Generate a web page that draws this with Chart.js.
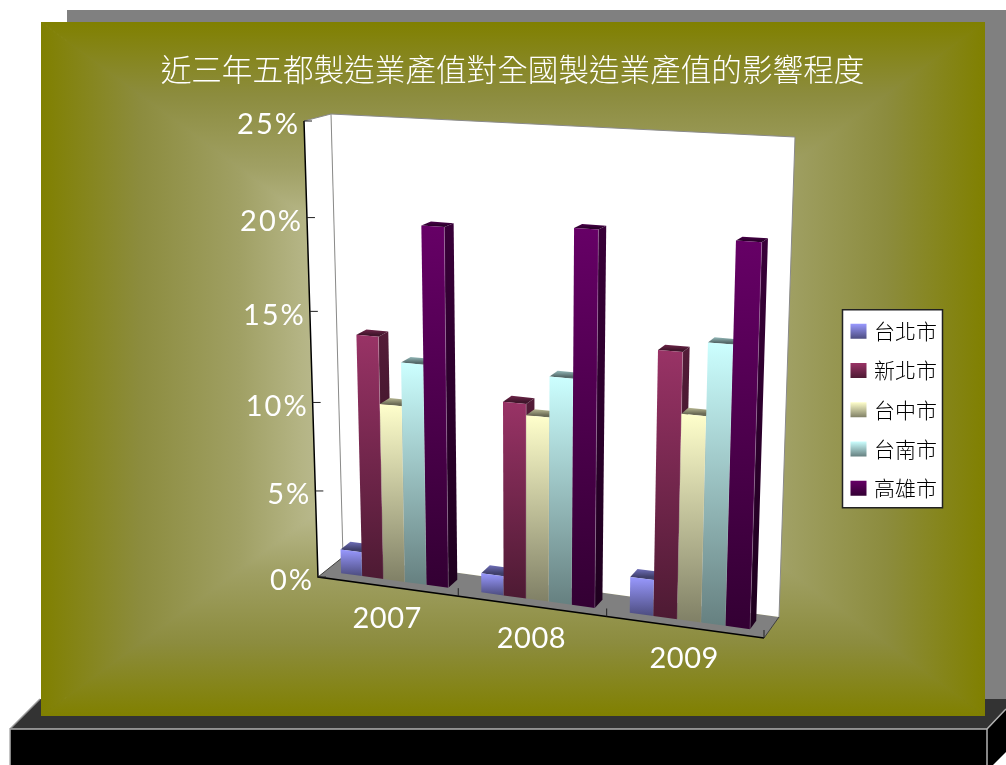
<!DOCTYPE html>
<html>
<head>
<meta charset="utf-8">
<style>
  html, body { margin: 0; padding: 0; background: #fff; }
  canvas { display: block; }
</style>
<script src="https://cdn.jsdelivr.net/npm/chart.js@4"></script>
</head>
<body>
<canvas id="chart" width="1006" height="765"></canvas>
<script>
const chartTitle = "近三年五都製造業產值對全國製造業產值的影響程度";
const years = ["2007", "2008", "2009"];
const taipei    = [1.4, 1.1, 2.0];
const newTaipei = [13.7, 10.8, 14.3];
const taichung  = [10.0, 10.2, 11.1];
const tainan    = [12.4, 12.4, 14.9];
const kaohsiung = [19.8, 20.2, 20.1];
const seriesNames = ["台北市", "新北市", "台中市", "台南市", "高雄市"];
const seriesValues = [taipei, newTaipei, taichung, tainan, kaohsiung];
const seriesColors = [[153,153,255], [153,51,102], [255,255,204], [204,255,255], [102,0,102]];

const latin = "Lato, sans-serif";
const cjk = "'Noto Sans CJK TC', sans-serif";

// corners of the 3D box as seen on the page
const FL = [318,577], FR = [764,638], FTL = [304,121], FTR = [780,144];
const BL = [343,557], BR = [779,617], BTL = [331,114], BTR = [795,137];
const BAR_FRONT = 0.3, BAR_BACK = 0.7;

const lerp = (a, b, t) => [a[0] + (b[0]-a[0])*t, a[1] + (b[1]-a[1])*t];
const rgb = (c, f) => `rgb(${Math.round(c[0]*f)},${Math.round(c[1]*f)},${Math.round(c[2]*f)})`;

// u along the categories, d into the depth, h up the value axis (all 0..1)
function project(u, d, h) {
  const su = u / (u + 1.09*(1-u));
  const sh = h / (h + 1.075*(1-h));
  const front = lerp(lerp(FL, FR, su), lerp(FTL, FTR, su), sh);
  const back = lerp(lerp(BL, BR, su), lerp(BTL, BTR, su), sh);
  return lerp(front, back, d);
}

function poly(ctx, pts, fill, stroke, lw) {
  ctx.beginPath();
  pts.forEach((p, i) => i ? ctx.lineTo(p[0], p[1]) : ctx.moveTo(p[0], p[1]));
  ctx.closePath();
  if (fill) { ctx.fillStyle = fill; ctx.fill(); }
  if (stroke) { ctx.strokeStyle = stroke; ctx.lineWidth = lw || 1; ctx.stroke(); }
}

function drawPage(ctx) {
  ctx.fillStyle = "#fff";
  ctx.fillRect(0, 0, 1006, 765);
  ctx.fillStyle = "#808080";
  ctx.fillRect(67, 10, 939, 695);
  // base block
  poly(ctx, [[10,729],[40,699],[1006,699],[1006,709],[987,729]], "#333333");
  poly(ctx, [[987,729],[1006,709],[1006,752],[993,765],[987,765]], "#000");
  ctx.fillStyle = "#000";
  ctx.fillRect(10, 729, 977, 36);
  ctx.strokeStyle = "#b2b2b2";
  ctx.lineWidth = 1.5;
  ctx.beginPath();
  ctx.moveTo(10, 765); ctx.lineTo(10, 729); ctx.lineTo(987, 729); ctx.lineTo(987, 765);
  ctx.stroke();
  ctx.beginPath();
  ctx.moveTo(987, 729); ctx.lineTo(1006, 709);
  ctx.stroke();
  ctx.beginPath();
  ctx.moveTo(10, 729); ctx.lineTo(40, 699);
  ctx.strokeStyle = "#999";
  ctx.stroke();

  // olive panel, gradient runs along the rectangle path towards the centre
  const x0 = 41, y0 = 22, x1 = 985, y1 = 716, cx = 513, cy = 369;
  const sides = [
    [[x0,y0],[x1,y0],[cx,cy], [cx,y0,cx,cy]],
    [[x1,y0],[x1,y1],[cx,cy], [x1,cy,cx,cy]],
    [[x1,y1],[x0,y1],[cx,cy], [cx,y1,cx,cy]],
    [[x0,y1],[x0,y0],[cx,cy], [x0,cy,cx,cy]]
  ];
  ctx.save();
  ctx.beginPath();
  ctx.rect(x0, y0, x1 - x0, y1 - y0);
  ctx.clip();
  sides.forEach(s => {
    const g = ctx.createLinearGradient(s[3][0], s[3][1], s[3][2], s[3][3]);
    g.addColorStop(0, "#808000");
    g.addColorStop(0.21, "#8c8c3e");
    g.addColorStop(0.42, "#a0a064");
    g.addColorStop(0.55, "#b4b484");
    g.addColorStop(1, "#f0f0f0");
    poly(ctx, s.slice(0,3), g, g, 1);
  });
  ctx.restore();
}

function drawBox(ctx) {
  poly(ctx, [FL, BL, BR, FR], "#808080");
  poly(ctx, [FL, FTL, BTL, BL], "#fff");
  poly(ctx, [BL, BTL, BTR, BR], "#fff");
  ctx.strokeStyle = "#8a8a8a";
  ctx.lineWidth = 1;
  ctx.beginPath();
  ctx.moveTo(...BL); ctx.lineTo(...BTL); ctx.lineTo(...BTR); ctx.lineTo(...BR);
  ctx.moveTo(...FTL); ctx.lineTo(...BTL);
  ctx.stroke();
  ctx.strokeStyle = "#404040";
  ctx.beginPath();
  ctx.moveTo(...FL); ctx.lineTo(...BL);
  ctx.moveTo(...FR); ctx.lineTo(...BR);
  ctx.stroke();
  ctx.strokeStyle = "#000";
  ctx.lineWidth = 1.5;
  ctx.beginPath();
  ctx.moveTo(...FTL); ctx.lineTo(...FL); ctx.lineTo(...FR);
  ctx.stroke();
}

function drawAxes(chart) {
  const ctx = chart.ctx, area = chart.chartArea;
  const xs = chart.scales.x, ys = chart.scales.y;
  ctx.fillStyle = "#fff";
  ctx.font = "400 29px " + latin;
  ctx.textBaseline = "middle";
  ctx.strokeStyle = "#202020";
  ctx.lineWidth = 1;
  ctx.letterSpacing = "2px";
  ys.ticks.forEach(t => {
    const h = (area.bottom - ys.getPixelForValue(t.value)) / area.height;
    const p = project(0, 0, h);
    ctx.beginPath();
    ctx.moveTo(p[0], p[1]); ctx.lineTo(p[0] + 8, p[1]);
    ctx.stroke();
    ctx.textAlign = "right";
    ctx.fillText(t.label, p[0] - 4, p[1] + 4);
  });
  ctx.letterSpacing = "0.5px";
  xs.ticks.forEach((t, i) => {
    const u = (xs.getPixelForValue(t.value) - area.left) / area.width;
    const p = project(u, 0, 0);
    ctx.textAlign = "center";
    ctx.fillText(t.label, p[0], p[1] + 32);
    const e = project((i + 1) / xs.ticks.length, 0, 0);
    ctx.beginPath();
    ctx.moveTo(e[0], e[1]); ctx.lineTo(e[0], e[1] - 8);
    ctx.stroke();
  });
  ctx.letterSpacing = "0px";
}

function drawBar(ctx, bar, color, area) {
  const u0 = (bar.x - bar.width/2 - area.left) / area.width;
  const u1 = (bar.x + bar.width/2 - area.left) / area.width;
  const h = (area.bottom - bar.y) / area.height;
  const a = project(u0, BAR_FRONT, 0), b = project(u1, BAR_FRONT, 0);
  const c = project(u1, BAR_FRONT, h), e = project(u0, BAR_FRONT, h);
  const bb = project(u1, BAR_BACK, 0), bc = project(u1, BAR_BACK, h), be = project(u0, BAR_BACK, h);

  // right side
  const gs = ctx.createLinearGradient(0, bc[1], 0, bb[1]);
  gs.addColorStop(0, rgb(color, 0.55));
  gs.addColorStop(1, rgb(color, 0.3));
  poly(ctx, [b, bb, bc, c], gs);
  // top
  const gt = ctx.createLinearGradient(0, be[1], 0, e[1]);
  gt.addColorStop(0, rgb(color, 0.72));
  gt.addColorStop(1, rgb(color, 0.42));
  poly(ctx, [e, c, bc, be], gt);
  // front
  const gf = ctx.createLinearGradient(0, Math.min(c[1], e[1]), 0, Math.max(a[1], b[1]));
  gf.addColorStop(0, rgb(color, 1));
  gf.addColorStop(1, rgb(color, 0.5));
  poly(ctx, [a, b, c, e], gf);
  ctx.strokeStyle = "rgba(255,255,255,0.2)";
  ctx.lineWidth = 1;
  ctx.beginPath();
  ctx.moveTo(...b); ctx.lineTo(...c);
  ctx.stroke();
}

const scenePlugin = {
  id: "scene",
  beforeDraw(chart) {
    const ctx = chart.ctx, lg = chart.legend;
    drawPage(ctx);
    // legend frame and gradient swatches, the legend itself only draws the text
    const boxes = lg.legendHitBoxes;
    const frameX = boxes[0].left - 8, frameY = boxes[0].top - 11;
    ctx.fillStyle = "#fff";
    ctx.fillRect(frameX, frameY, 100, 198);
    ctx.strokeStyle = "#222";
    ctx.lineWidth = 1.5;
    ctx.strokeRect(frameX, frameY, 100, 198);
    lg.legendItems.forEach((item, i) => {
      const hb = boxes[i];
      const top = hb.top + (hb.height - 15) / 2;
      const g = ctx.createLinearGradient(0, top, 0, top + 15);
      g.addColorStop(0, rgb(seriesColors[i], 1));
      g.addColorStop(1, rgb(seriesColors[i], 0.5));
      ctx.fillStyle = g;
      ctx.fillRect(hb.left, top, 16, 15);
      item.fillStyle = "rgba(0,0,0,0)";
      item.strokeStyle = "rgba(0,0,0,0)";
    });
  },
  beforeDatasetsDraw(chart) {
    const ctx = chart.ctx, area = chart.chartArea;
    ctx.save();
    drawBox(ctx);
    drawAxes(chart);
    seriesValues.forEach((vals, i) => {
      chart.getDatasetMeta(i).data.forEach(bar => drawBar(ctx, bar, seriesColors[i], area));
    });
    ctx.restore();
    return false; // bars are drawn above in perspective
  }
};

new Chart(document.getElementById("chart"), {
  type: "bar",
  data: {
    labels: years,
    datasets: seriesNames.map((name, i) => ({
      label: name,
      data: seriesValues[i],
      backgroundColor: rgb(seriesColors[i], 1),
      categoryPercentage: 0.77,
      barPercentage: 1
    }))
  },
  options: {
    responsive: false,
    animation: false,
    layout: { padding: { left: 78, right: 59, bottom: 248 } },
    scales: {
      x: { display: false },
      y: {
        display: false, min: 0, max: 25,
        ticks: { stepSize: 5, callback: v => v + "%" }
      }
    },
    plugins: {
      title: {
        display: true,
        text: chartTitle,
        color: "#fff",
        font: { family: cjk, size: 30.6, weight: "300" },
        padding: { top: 51, bottom: 10 }
      },
      legend: {
        position: "right",
        align: "end",
        labels: {
          boxWidth: 13,
          boxHeight: 15,
          padding: 18.25,
          color: "#000",
          font: { family: cjk, size: 21, weight: "300" }
        }
      },
      tooltip: { enabled: false }
    }
  },
  plugins: [scenePlugin]
});
</script>
</body>
</html>
